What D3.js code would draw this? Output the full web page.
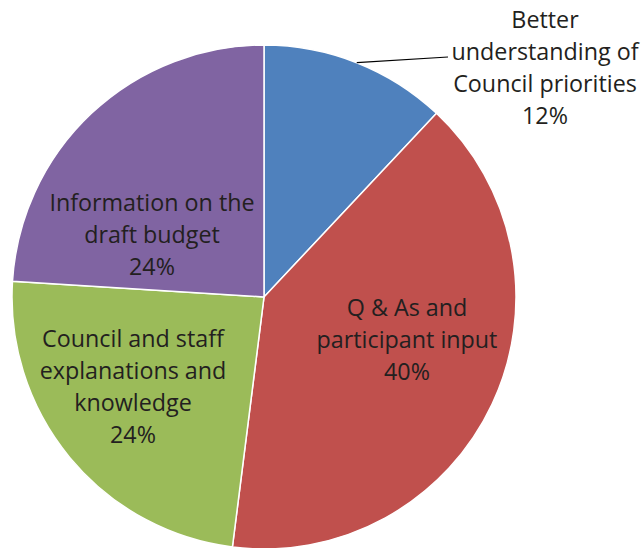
<!DOCTYPE html>
<html>
<head>
<meta charset="utf-8">
<script src="https://d3js.org/d3.v7.min.js"></script>
<style>
  body { margin: 0; background: #fff; }
  svg text { font-family: "Open Sans", sans-serif; fill: #231f20; }
</style>
</head>
<body>
<div id="chart"></div>
<script>
// ---- data ----
var categories = ["Better understanding of Council priorities", "Q & As and participant input",
                  "Council and staff explanations and knowledge", "Information on the draft budget"];
var values = [12, 40, 24, 24];
var labelLines = [
  ["Better", "understanding of", "Council priorities", "12%"],
  ["Q & As and", "participant input", "40%"],
  ["Council and staff", "explanations and", "knowledge", "24%"],
  ["Information on the", "draft budget", "24%"]
];
var colors = ["#4f81bd", "#c0504d", "#9bbb59", "#8064a2"];

// ---- layout ----
var width = 641, height = 548;
var cx = 264, cy = 297, radius = 252;
var fontSize = 23.3, lineH = 32;
// label anchor (centre x, first baseline) relative to pie centre
var labelPos = [[281, -269], [143, 19], [-131, 50], [-112, -86]];

var svg = d3.select("#chart").append("svg")
    .attr("width", width)
    .attr("height", height);

var g = svg.append("g").attr("transform", "translate(" + cx + "," + cy + ")");

var pie = d3.pie().sort(null).value(function (d) { return d; });
var arc = d3.arc().innerRadius(0).outerRadius(radius);
var arcs = pie(values);

//----------------------------SLICES----------------------------//
g.selectAll("path.slice")
    .data(arcs)
    .enter().append("path")
    .attr("class", "slice")
    .attr("d", arc)
    .attr("fill", function (d, i) { return colors[i]; })
    .attr("stroke", "#fff")
    .attr("stroke-width", 1.5);

//----------------------------LABELS----------------------------//
arcs.forEach(function (d, i) {
  var pos = labelPos[i];
  var t = g.append("text")
      .attr("text-anchor", "middle")
      .style("font-size", fontSize + "px");
  labelLines[i].forEach(function (s, k) {
    t.append("tspan")
      .attr("x", pos[0])
      .attr("y", pos[1] + k * lineH)
      .text(s);
  });
});

// leader line for the outside label, from the slice edge at its mid angle
var mid = (arcs[0].startAngle + arcs[0].endAngle) / 2;
var p0 = [Math.sin(mid) * radius, -Math.cos(mid) * radius];
g.append("path")
    .attr("d", d3.line()([p0, [448 - cx, 57 - cy]]))
    .attr("stroke", "#000")
    .attr("stroke-width", 1.2)
    .attr("fill", "none");
</script>
</body>
</html>
